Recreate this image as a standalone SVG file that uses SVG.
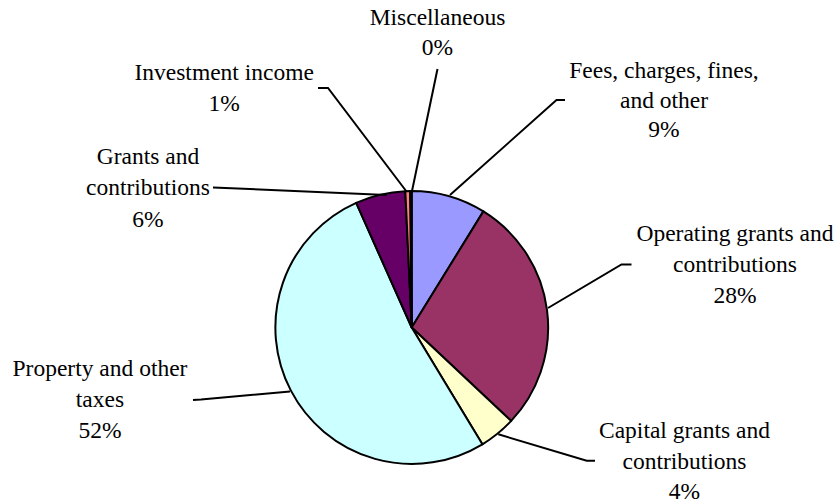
<svg xmlns="http://www.w3.org/2000/svg" width="839" height="504" viewBox="0 0 839 504">
<style>
.s{stroke:#000;stroke-width:2;stroke-linejoin:round}
.l{fill:none;stroke:#000;stroke-width:2}
.t text{font-family:'Times New Roman','Liberation Serif','DejaVu Serif',serif;font-size:23.5px;fill:#000;text-anchor:middle}
</style>
<rect width="839" height="504" fill="#fff"/>
<g id="pie">
<g id="fees"><path class="s" fill="#9999FF" d="M411.7,327.5 L411.7,191 A136.5,136.5 0 0 1 483.4,211.4 Z"/></g>
<g id="operating"><path class="s" fill="#993366" d="M411.7,327.5 L483.4,211.4 A136.5,136.5 0 0 1 511.2,420.9 Z"/></g>
<g id="capital"><path class="s" fill="#FFFFCC" d="M411.7,327.5 L511.2,420.9 A136.5,136.5 0 0 1 482.4,444.3 Z"/></g>
<g id="property"><path class="s" fill="#CCFFFF" d="M411.7,327.5 L482.4,444.3 A136.5,136.5 0 1 1 356.2,202.8 Z"/></g>
<g id="grants"><path class="s" fill="#660066" d="M411.7,327.5 L356.2,202.8 A136.5,136.5 0 0 1 405.3,191.15 Z"/></g>
<g id="investment"><path class="s" fill="#FF8080" d="M411.7,327.5 L405.3,191.15 A136.5,136.5 0 0 1 410.0,191.0 Z"/></g>
<g id="misc"><path class="s" fill="#0066CC" d="M411.7,327.5 L410.9,191.0 A136.5,136.5 0 0 1 411.7,191 Z"/></g>
</g>
<g id="connectors">
<polyline class="l" points="437.5,69 412,191"/>
<polyline class="l" points="318,88 328,88 406.5,191.5"/>
<polyline class="l" points="213,187.5 386.5,195"/>
<polyline class="l" points="565,100 556.5,100 450,195"/>
<polyline class="l" points="631.5,264.5 621.5,264.5 548,308"/>
<polyline class="l" points="595,460.7 586.7,460.7 498.3,434.3"/>
<polyline class="l" points="193,400 201,399.5 290,391.5"/>
</g>
<g class="t">
<g id="label-misc"><text x="437.5" y="25">Miscellaneous</text><text x="437.5" y="55">0%</text></g>
<g id="label-investment"><text x="224.2" y="80">Investment income</text><text x="224.2" y="111">1%</text></g>
<g id="label-grants"><text x="148" y="163.5">Grants and</text><text x="148" y="195">contributions</text><text x="148" y="226.5">6%</text></g>
<g id="label-fees"><text x="664" y="78">Fees, charges, fines,</text><text x="664" y="107.5">and other</text><text x="664" y="137">9%</text></g>
<g id="label-operating"><text x="735" y="241">Operating grants and</text><text x="735" y="272">contributions</text><text x="735" y="303">28%</text></g>
<g id="label-capital"><text x="684.5" y="438">Capital grants and</text><text x="684.5" y="468.5">contributions</text><text x="684.5" y="499">4%</text></g>
<g id="label-property"><text x="100" y="376">Property and other</text><text x="100" y="407">taxes</text><text x="100" y="438">52%</text></g>
</g>
</svg>
